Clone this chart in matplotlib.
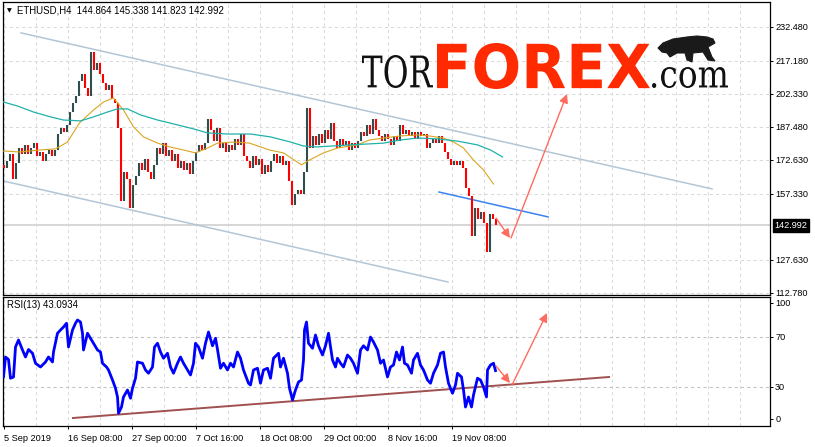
import numpy as np
import matplotlib.pyplot as plt
from matplotlib.textpath import TextPath
from matplotlib.patches import PathPatch, Polygon
from matplotlib.font_manager import FontProperties
from matplotlib.transforms import Affine2D, blended_transform_factory

plt.rcParams['font.family'] = ['Liberation Sans', 'DejaVu Sans']

# --- данные ---
symbol = 'ETHUSD,H4'
last_ohlc = [144.864, 145.338, 141.823, 142.992]
step = 3  # одно значение на каждые 3 бара H4
close = [169, 172, 175, 164, 171, 178, 175, 179, 175, 178, 180, 174, 176, 172, 175, 177,
         174, 177, 184, 187, 185, 188, 194, 198, 201, 208, 211, 205, 201, 221, 213, 216,
         211, 207, 204, 206, 200, 198, 187, 154, 167, 164, 151, 161, 165, 171, 168, 173,
         167, 164, 170, 178, 175, 180, 174, 177, 172, 175, 169, 172, 168, 171, 166, 172,
         176, 179, 177, 180, 191, 186, 181, 187, 178, 180, 176, 179, 177, 182, 179, 184,
         174, 172, 169, 174, 170, 173, 166, 170, 167, 172, 175, 171, 174, 170, 172, 163,
         152, 157, 159, 157, 167, 196, 178, 183, 179, 184, 180, 186, 182, 189, 181, 178,
         182, 179, 181, 177, 180, 178, 181, 185, 183, 188, 184, 191, 186, 183, 181, 184,
         182, 179, 183, 181, 188, 184, 186, 183, 185, 182, 185, 183, 184, 178, 180, 182,
         180, 183, 180, 176, 173, 170, 172, 170, 172, 169, 160, 156, 138, 151, 146, 149,
         144, 131, 148, 146, 142.992]

ma_fast = [(0, 176.5), (16, 176.0), (36, 176.9), (52, 177.4), (64, 180.5), (76, 189.1),
           (90, 194.9), (100, 198.5), (110, 200.3), (120, 194.9), (130, 187.3), (140, 182.8),
           (154, 180.0), (166, 178.3), (180, 176.9), (192, 175.6), (204, 177.8), (214, 180.0),
           (230, 180.5), (246, 180.0), (266, 176.9), (280, 175.6), (298, 170.2), (306, 172.4),
           (320, 175.6), (334, 177.8), (354, 179.2), (366, 181.4), (380, 182.3), (396, 183.2),
           (414, 183.7), (426, 183.2), (440, 182.3), (450, 180.5), (460, 177.8), (470, 172.4),
           (480, 167.9), (490, 161.6)]
ma_slow = [(0, 198.5), (14, 196.7), (30, 194.0), (47, 191.8), (60, 190.4), (77, 190.0),
           (90, 191.8), (104, 194.0), (114, 195.4), (124, 195.4), (137, 192.7), (154, 190.4),
           (174, 188.2), (190, 186.4), (204, 184.6), (224, 184.1), (247, 184.1), (267, 182.8),
           (287, 180.5), (300, 178.7), (314, 178.3), (347, 179.2), (380, 180.0), (397, 181.4),
           (414, 182.3), (434, 181.9), (454, 180.9), (474, 179.2), (487, 176.9), (499, 173.8)]

rsi_last = 43.0934
rsi = [(0, 38), (2, 54), (5, 52), (7, 37), (10, 38), (12, 62), (15, 67.6), (19, 59.6),
       (22, 54), (25, 60), (29, 57), (32, 49), (37, 46), (42, 50), (45, 54), (49, 50),
       (50, 58), (54, 73), (57, 75.6), (60, 78), (63, 81), (65, 62), (69, 75.6), (72, 81),
       (74, 83.6), (77, 82), (79, 73), (80, 59.6), (84, 73), (88, 67.6), (90, 65), (94, 59.6),
       (97, 58), (99, 49), (103, 46), (105, 43.6), (109, 35.6), (112, 29), (114, 22), (115, 9),
       (118, 14), (120, 22), (124, 27.6), (127, 21), (129, 29), (132, 37), (134, 50), (139, 49),
       (142, 43.6), (145, 41), (149, 46), (151, 62), (154, 65), (157, 58), (160, 53), (164, 57),
       (167, 46), (170, 41), (174, 49), (177, 54), (180, 49), (184, 43.6), (187, 39.6), (190, 49),
       (192, 65), (195, 62), (199, 53), (202, 65), (205, 74), (209, 63), (212, 69), (214, 60),
       (217, 45), (220, 49), (224, 43.6), (227, 49), (230, 46), (234, 58), (237, 53), (240, 43.6),
       (245, 33), (247, 31.6), (250, 43.6), (254, 45), (257, 33), (260, 43.6), (264, 45), (267, 37),
       (270, 53), (275, 57), (277, 46), (280, 53), (284, 41), (286, 29), (289, 19.6), (292, 27.6),
       (295, 34), (298, 35.6), (300, 51.6), (301, 75.6), (303, 82), (305, 65), (309, 61), (312, 71.6),
       (315, 63), (319, 55.6), (322, 63), (325, 73), (329, 51.6), (332, 46), (334, 53), (337, 49),
       (340, 46), (344, 55.6), (347, 53), (350, 49), (354, 41), (357, 59.6), (360, 63), (364, 59.6),
       (367, 70), (370, 66), (374, 59.6), (377, 49), (380, 51.6), (384, 38), (387, 46), (390, 47.6),
       (393, 58), (396, 51.6), (399, 62), (401, 49), (404, 47.6), (408, 41), (410, 51.6), (414, 57),
       (417, 47.6), (420, 43.6), (424, 35.6), (427, 33), (430, 41), (434, 47.6), (437, 57), (440, 58),
       (442, 46), (445, 33), (449, 25), (452, 31.6), (454, 41), (458, 38), (460, 27.6), (462, 14),
       (465, 22), (468, 14), (470, 23.6), (474, 37), (477, 35.6), (480, 30), (483, 22), (484, 43.6),
       (487, 47.6), (490, 49), (492, 43.0934)]

price_ticks = [232.480, 217.180, 202.330, 187.480, 172.630, 157.330, 127.630, 112.780]
date_labels = ['5 Sep 2019', '16 Sep 08:00', '27 Sep 00:00', '7 Oct 16:00',
               '18 Oct 08:00', '29 Oct 00:00', '8 Nov 16:00', '19 Nov 08:00']

# линии разметки (бар, цена)
channel_up = ([17.5, 708.5], [229.6, 159.4])
channel_low = ([-0.5, 444.5], [163.0, 117.5])
blue_line = ([435.5, 544.5], [158.0, 146.8])
price_arrows = [((492.5, 146.3), (506.5, 137.3)), ((507.5, 137.3), (563.5, 202.1))]
rsi_trend = ([69.5, 605.5], [5.2, 38.0])
rsi_arrows = [((492.5, 46.8), (506.5, 33.2)), ((508.5, 31.6), (543.5, 89.2))]

# --- рисунок ---
W, H = 815, 447
fig = plt.figure(figsize=(W / 100, H / 100), dpi=100)


def box(x0, y0, x1, y1):
    return [x0 / W, 1 - y1 / H, (x1 - x0) / W, (y1 - y0) / H]


ax = fig.add_axes(box(2.5, 1.5, 770, 294.5))
ax2 = fig.add_axes(box(2.5, 296.5, 770, 426))

grid_kw = dict(color='#D9D9D9', lw=0.75, ls=(0, (3, 3)))
fs = 6.6

# свечи: бар от предыдущего закрытия до текущего
c = np.array(close, dtype=float)
o = np.r_[c[0] + 1, c[:-1]]
xb = np.arange(len(c)) * step
cols = np.where(c >= o, '#2F4F4F', '#FF0000')
ax.vlines(xb, np.minimum(o, c), np.maximum(o, c), colors=cols, lw=1.5, zorder=3)

fx, fy = zip(*ma_fast)
sx, sy = zip(*ma_slow)
ax.plot(fx, fy, color='#DAA520', lw=0.8, zorder=4)
ax.plot(sx, sy, color='#20B2AA', lw=0.9, zorder=4)

ax.plot(*channel_up, color='#B3C6D6', lw=1.1, zorder=2)
ax.plot(*channel_low, color='#B3C6D6', lw=1.1, zorder=2)
ax.plot(*blue_line, color='#3C82F0', lw=1.1, zorder=2)
for a, b in price_arrows:
    ax.annotate('', xy=b, xytext=a,
                arrowprops=dict(arrowstyle='-|>', color='#FF6B5E', lw=1.0,
                                mutation_scale=13, shrinkA=0, shrinkB=0), zorder=5)

ax.axhline(last_ohlc[3], color='#D6D6D6', lw=1.4, zorder=1)
ax.set_xlim(-1, 766.5)
ax.set_ylim(111.88, 243.73)
ax.set_xticks(np.arange(0, 767, 32))
ax.set_yticks(price_ticks)
ax.set_yticklabels([f'{v:.3f}' for v in price_ticks])
ax.yaxis.tick_right()
ax.tick_params(axis='x', length=0, labelbottom=False)
ax.tick_params(axis='y', length=2.2, width=0.7, pad=1.5, labelsize=fs)
ax.grid(True, **grid_kw)
ax.set_axisbelow(True)

tr = blended_transform_factory(ax.transAxes, ax.transData)
ax.text(1.006, last_ohlc[3], f'{last_ohlc[3]:.3f}', transform=tr, color='white',
        fontsize=fs, va='center', ha='left',
        bbox=dict(facecolor='black', edgecolor='black', pad=1.3), zorder=6)

# RSI
rx, ry = zip(*rsi)
ax2.plot(rx, ry, color='#0000FF', lw=2.0, zorder=4)
ax2.plot(*rsi_trend, color='#A0504E', lw=1.4, zorder=3)
for a, b in rsi_arrows:
    ax2.annotate('', xy=b, xytext=a,
                 arrowprops=dict(arrowstyle='-|>', color='#FF6B5E', lw=1.0,
                                 mutation_scale=13, shrinkA=0, shrinkB=0), zorder=5)
for lvl in (70, 30):
    ax2.axhline(lvl, color='#C2C2C2', lw=0.75, ls=(0, (3, 3)), zorder=1)
ax2.set_xlim(-1, 766.5)
ax2.set_ylim(-1.2, 102.4)
date_pos = np.arange(len(date_labels)) * 64
ax2.set_xticks(date_pos)
ax2.set_xticklabels(date_labels)
ax2.set_xticks([p for p in range(0, 767, 32) if p not in date_pos], minor=True)
plt.setp(ax2.get_xticklabels(), ha='left')
ax2.tick_params(axis='x', which='major', length=2.5, width=0.7, pad=3.5, labelsize=fs)
ax2.tick_params(axis='x', which='minor', length=0)
ax2.grid(True, axis='x', which='both', **grid_kw)
ax2.set_axisbelow(True)
# MT4 прижимает подписи 100 и 0 внутрь окна
ax2.set_yticks([97.2, 70, 30, 4.4])
ax2.set_yticklabels(['100', '70', '30', '0'])
ax2.yaxis.tick_right()
ax2.tick_params(axis='y', length=2.2, width=0.7, pad=1.5, labelsize=fs)

for a in (ax, ax2):
    for s in a.spines.values():
        s.set_linewidth(0.9)
        s.set_color('black')

fig.text(7 / W, 1 - 10.5 / H, '▼', fontsize=4.5, va='center', ha='left',
         family=['DejaVu Sans'])
fig.text(17 / W, 1 - 10.5 / H,
         f'{symbol}  ' + ' '.join(f'{v:.3f}' for v in last_ohlc),
         fontsize=6.9, va='center', ha='left')
fig.text(7 / W, 1 - 305.5 / H, f'RSI(13) {rsi_last}', fontsize=6.9, va='center', ha='left')


# логотип
def logo_text(s, bx, prop, color):
    x0, y0, x1, y1 = bx
    tp = TextPath((0, 0), s, size=10, prop=prop)
    ext = tp.get_extents()
    t = (Affine2D().translate(-ext.x0, -ext.y0)
         .scale((x1 - x0) / ext.width / W, (y1 - y0) / ext.height / H)
         .translate(x0 / W, 1 - y1 / H) + fig.transFigure)
    fig.add_artist(PathPatch(tp, transform=t, facecolor=color, edgecolor='none'))


logo_text('TOR', (362, 55, 433, 88), FontProperties(family='DejaVu Serif'), '#111111')
logo_text('FOREX', (437, 43, 650, 89), FontProperties(family='DejaVu Sans', weight='bold'), '#FF2A00')
logo_text('.com', (652, 67, 728, 88), FontProperties(family='DejaVu Serif'), '#111111')

bull = [(658, 48), (663, 43), (673, 39), (687, 37), (697, 36), (707, 37), (713, 39),
        (715, 43), (708, 47), (712, 57), (715, 61), (708, 60), (703, 52), (693, 53),
        (692, 62), (687, 60), (685, 53), (677, 53), (670, 57), (667, 53), (662, 52)]
fig.add_artist(Polygon([(x / W, 1 - y / H) for x, y in bull], closed=True,
                       transform=fig.transFigure, facecolor='#1A1A1A', edgecolor='#1A1A1A', lw=0.8))

plt.savefig('out.png', dpi=100)
